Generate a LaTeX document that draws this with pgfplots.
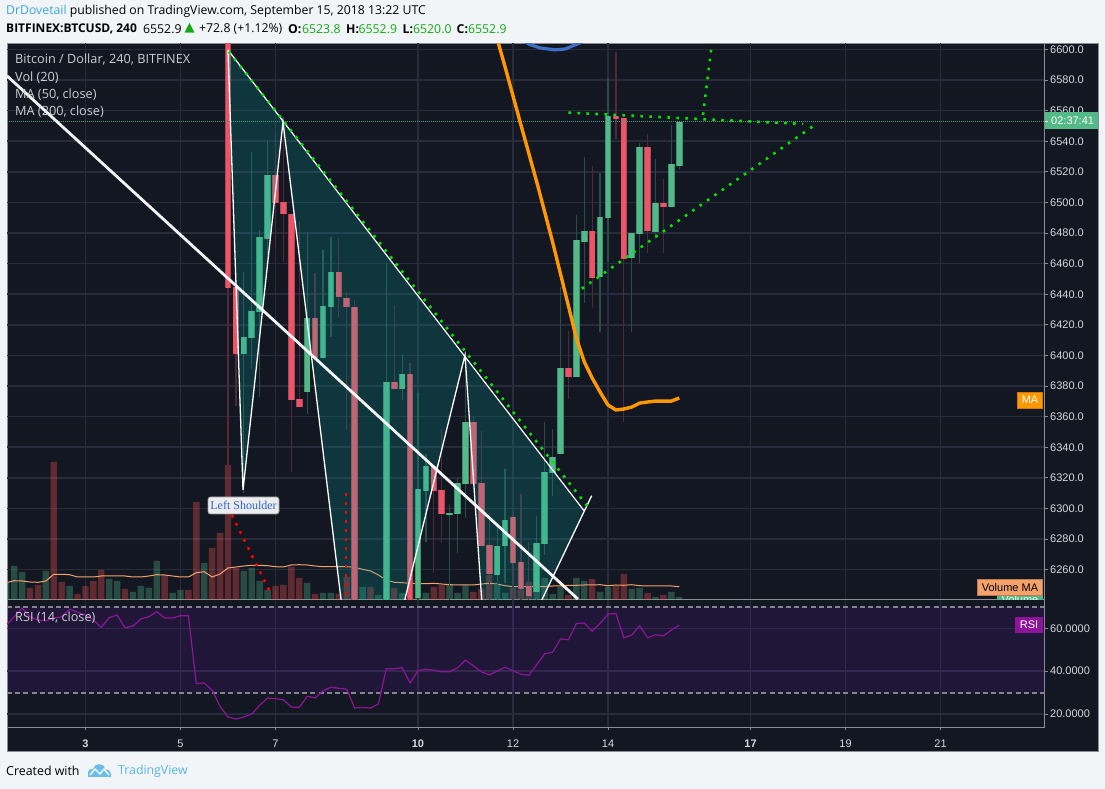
\documentclass[border=0pt]{standalone}
\usepackage{pgfplots}
\pgfplotsset{compat=1.18}
\usepackage{pgfplotstable}
\usepackage{fontspec}
\setmainfont{Open Sans}
\newfontfamily\lib{Liberation Sans}
\newfontfamily\libserif{Liberation Serif}
\newfontfamily\dv{DejaVu Sans}
\definecolor{pagebg}{HTML}{F1F5F8}
\definecolor{bg}{HTML}{131722}
\definecolor{gridc}{HTML}{282B3C}
\definecolor{axc}{HTML}{8A8D93}
\definecolor{lab}{HTML}{D6D8DC}
\definecolor{legc}{HTML}{CCCFD3}
\definecolor{upc}{HTML}{53B987}
\definecolor{upb}{HTML}{3F8F72}
\definecolor{dnc}{HTML}{EF5366}
\definecolor{dnb}{HTML}{A8485A}
\definecolor{upw}{HTML}{2B4D47}
\definecolor{dnw}{HTML}{51293A}
\definecolor{volup}{HTML}{53B987}
\definecolor{voldn}{HTML}{FF5252}
\definecolor{teal}{HTML}{00ADA9}
\definecolor{dotg}{HTML}{00E600}
\definecolor{rsic}{HTML}{8E1599}
\definecolor{band}{HTML}{9915FF}
\definecolor{dashc}{HTML}{85838F}
\definecolor{volma}{HTML}{F5A36B}
\definecolor{ma50}{HTML}{FF9800}
\definecolor{ma200}{HTML}{3D6FC4}
\definecolor{tvblue}{HTML}{3BA7E0}
\definecolor{hdrg}{HTML}{12A812}
\definecolor{pline}{HTML}{45A07C}

\pgfplotstableread{
k l b t h
2 6310.1 6401 6412.1 6454.6
3 6391.2 6411.4 6429.1 6533
4 6372.9 6428.4 6477.4 6482
5 6465.7 6476.1 6518 6540.8
10 6361.8 6376.1 6424.5 6480.7
12 6398.4 6398.4 6432.4 6469
13 6412.1 6431.7 6454.6 6477.4
20 6190 6200 6382.7 6460.5
22 6370.9 6378.1 6387.9 6401
24 6200 6241.5 6312.7 6375.5
25 6278.1 6311.4 6327.8 6335.6
28 6238 6295.7 6297.1 6302.3
29 6270.9 6296.4 6316.7 6320
30 6293.8 6316 6356.5 6400.3
34 6240 6256.5 6275.5 6287.9
35 6251.3 6275.5 6292.5 6325.8
39 6240 6245.4 6277.5 6295.1
40 6269.6 6276.8 6323.9 6356.5
41 6308.2 6323.2 6333.7 6352
42 6335.6 6335.6 6391.8 6444.8
44 6385.9 6385.9 6475.5 6491.8
45 6434.3 6474.2 6481.4 6529.7
47 6415.4 6451.3 6490.5 6519.3
48 6461.1 6489.9 6556.5 6581.4
51 6415.4 6463.7 6480.1 6480.1
52 6460.5 6479.4 6536.3 6538.9
54 6476.1 6480.7 6499.7 6528.4
56 6497.1 6497.1 6525.2 6550.7
57 6521.9 6523.8 6552.9 6552.9
}\upcandles
\pgfplotstableread{
k l b t h
0 6326.5 6444.1 6700 6720
1 6367 6401 6444.8 6444.8
6 6470.3 6499.7 6518 6545.4
7 6461.1 6492.5 6500.3 6549.3
8 6323.9 6370.9 6492.5 6492.5
9 6366.3 6366.3 6371.6 6487.9
11 6398.4 6398.4 6424.5 6453.9
14 6425.2 6438.2 6454.6 6476.8
15 6351.3 6431.7 6437.6 6441.5
16 6190 6200 6431.7 6436.3
21 6378.1 6378.1 6382.7 6433
23 6190 6200 6387.9 6395.1
26 6257.8 6311.4 6327.8 6327.8
27 6277.5 6296.4 6312.1 6352
31 6316 6316 6356.5 6360.5
32 6275.5 6275.5 6316.7 6350.6
33 6238 6257.2 6276.1 6297.1
36 6238 6264.4 6294.4 6297.7
37 6238 6247.4 6265 6309.5
38 6238 6242.8 6249.3 6278.1
43 6371.6 6385.9 6391.8 6416
46 6431 6450.7 6481.4 6523.9
49 6541.5 6554.6 6556.5 6598.4
50 6356.5 6463.1 6555.2 6555.2
53 6467 6481.4 6536.3 6544.8
55 6467 6497.1 6499.7 6515.4
}\dncandles
\pgfplotstableread{
k v
-28 17
-27 34
-26 28
-23 29
-20 14
-15 21
-14 19
-12 8
-11 14
-10 12
-9 39
-7 7
-6 10
-3 37
2 29
3 32
4 19
5 10
10 17
12 7
13 7
17 13
19 5
20 28
22 7
24 10
25 7
28 16
29 7
30 15
34 15
35 7
39 13
40 22
41 6
42 13
44 22
45 19
47 8
48 13
51 11
52 12
54 3
56 8
57 3
}\volup
\pgfplotstableread{
k v
-25 12
-24 15
-22 138
-21 18
-19 6
-18 14
-17 19
-16 30
-13 11
-8 25
-5 10
-4 98
-2 52
-1 67
0 135
1 32
6 14
7 15
8 33
9 22
11 6
14 6
15 23
16 30
18 13
21 12
23 20
26 13
27 15
31 8
32 11
33 25
36 12
37 10
38 18
43 5
46 21
49 14
50 26
53 7
55 5
}\voldn

\pgfplotsset{
  frame/.style={
    scale only axis, width=1037.5pt,
    xmin=-27.91, xmax=103.13,
    xtick={-18,-6,6,24,36,48,66,78,90},
    grid=major, grid style={gridc,line width=1.6pt},
    axis x line*=bottom, axis y line*=right,
    x axis line style={-,axc,line width=1pt},
    y axis line style={-,axc,line width=1pt},
    tick align=outside, major tick length=3pt,
    tick style={axc,line width=.8pt},
    yticklabel style={font=\lib\fontsize{11}{11}\selectfont,text=lab,anchor=west,inner sep=0pt,xshift=2.5pt},
    xticklabel style={font=\lib\fontsize{11}{11}\selectfont,text=lab,yshift=-6pt},
  },
  over/.style={
    scale only axis, width=1037.5pt, height=556.5pt,
    xmin=-27.91, xmax=103.13, ymin=6240.2, ymax=6603.9, hide axis, clip=true,
  },
}

\begin{document}
\begin{tikzpicture}[x=1pt,y=1pt]
\fill[pagebg] (0,0) rectangle (1105,789);
\fill[bg] (7,37) rectangle (1098.5,745.5);
\draw[axc,line width=1pt] (7,37) rectangle (1098.5,745.5);

% price frame: grid, ticks and labels
\begin{axis}[frame, at={(7pt,189pt)}, anchor=south west, height=556.5pt,
  ymin=6240.2, ymax=6603.9,
  ytick={6240,6260,...,6600},
  xticklabels={}, x tick style={draw=none},
  /pgf/number format/.cd, assume math mode=true, fixed, fixed zerofill, precision=1, 1000 sep={}]
\end{axis}

% RSI panel
\fill[bg] (1045.5,37.5) rectangle (1098,189);
\begin{axis}[frame, at={(7pt,61.7pt)}, anchor=south west, height=126.8pt,
  ymin=13.8, ymax=73,
  ytick={20,40,60},
  xticklabels={\textbf{3},5,7,\textbf{10},12,14,\textbf{17},19,21},
  /pgf/number format/.cd, assume math mode=true, fixed, fixed zerofill, precision=4, 1000 sep={}]
\addplot[fill=band,fill opacity=.1,draw=none,forget plot] coordinates {(-27.91,30)(103.13,30)(103.13,70)(-27.91,70)} --cycle;
\addplot[dashc,line width=2pt,dash pattern=on 5pt off 3.2pt,forget plot] coordinates {(-27.91,70)(103.13,70)};
\addplot[dashc,line width=2pt,dash pattern=on 5pt off 3.2pt,forget plot] coordinates {(-27.91,30)(103.13,30)};
\addplot[rsic,line width=1.2pt,forget plot] coordinates {
(-28,61.5)(-27,65.4)(-26,69.4)(-25,65.4)(-24,63.9)(-23,63.5)(-22,64.7)(-21,65.4)(-20,69)(-19,67.5)
(-18,66.2)(-17,63.9)(-16,60.5)(-15,65)(-14,66.2)(-13,60.3)(-12,61.1)(-11,64.4)(-10,65.4)(-9,67.8)
(-8,64.8)(-7,64.8)(-6,65.9)(-5,65.9)(-4,34.2)(-3,34.5)(-2,31.1)(-1,23.6)(0,18.6)(1,17.7)(2,18.6)
(3,20)(4,24.1)(5,27.5)(6,27.2)(7,26.6)(8,23.3)(9,23)(10,28.3)(11,27.5)(12,30.8)(13,32.5)(14,32)
(15,31.6)(16,22.8)(17,23.1)(18,22.8)(19,24.7)(20,41.2)(21,41.1)(22,41.7)(23,34.5)(24,40.2)(25,40.9)
(26,40.5)(27,39.7)(28,39.7)(29,41.6)(30,45.2)(31,42.5)(32,39.7)(33,38.3)(34,40)(35,41.9)(36,40.2)
(37,38.6)(38,38.1)(39,43.1)(40,48.1)(41,48.9)(42,55)(43,54.7)(44,62.2)(45,62.5)(46,58.7)(47,62.3)
(48,66.7)(49,66.9)(50,55.6)(51,56.9)(52,61.2)(53,55.6)(54,57)(55,56.5)(56,59.2)(57,61.5)};
\end{axis}

% volume bars and their moving average (heights in the chart's own unnamed scale)
\begin{axis}[scale only axis, width=1037.5pt, height=556.5pt, at={(7pt,189pt)}, anchor=south west,
  xmin=-27.91, xmax=103.13, ymin=0, ymax=556.5, hide axis]
\addplot[ybar,bar width=6.4pt,bar shift=0pt,fill=volup,fill opacity=.33,draw=none,forget plot] table[x=k,y=v] {\volup};
\addplot[ybar,bar width=6.4pt,bar shift=0pt,fill=voldn,fill opacity=.33,draw=none,forget plot] table[x=k,y=v] {\voldn};
\addplot[volma,line width=1pt,forget plot] coordinates {
(-28,17.3)(-27,19.3)(-26,19)(-25,18)(-24,17.7)(-23,19)(-22,25.7)(-21,25.7)(-20,25.3)(-19,23)(-18,23)
(-17,23)(-16,24)(-15,24)(-14,24)(-13,24)(-12,23)(-11,23)(-10,24)(-9,25.3)(-8,25)(-7,24)(-6,23)(-5,23)
(-4,27.3)(-3,28.3)(-2,23)(-1,26)(0,32)(1,33)(2,34)(3,34.7)(4,34.7)(5,34.3)(6,33.3)(7,33)(8,35)(9,35.3)
(10,35)(11,34)(12,33.3)(13,33.3)(14,33.3)(15,33.3)(16,32.7)(17,30.7)(18,29)(19,25)(20,20)(21,17.7)
(22,17.3)(23,16.7)(24,16.3)(25,16.3)(26,16.7)(27,16)(28,15.3)(29,15)(30,15)(31,15)(32,16)(33,16.7)
(34,16)(35,14.3)(36,13.3)(37,13.3)(38,13.3)(39,13.3)(40,13.3)(41,14)(42,14)(43,14.7)(44,14.7)(45,15)
(46,15)(47,15.3)(48,14.3)(49,15)(50,14.7)(51,15.3)(52,14.3)(53,14)(54,14)(55,14)(56,14)(57,13.3)};
\end{axis}

% candles, moving averages and the drawings on the chart
\begin{axis}[over, at={(7pt,189pt)}, anchor=south west]
\addplot[draw=none,mark=none,forget plot,error bars/.cd,y dir=plus,y explicit,error mark=none,error bar style={color=upw,line width=1.3pt}]
  table[x=k,y=l,y error plus expr=\thisrow{h}-\thisrow{l}] {\upcandles};
\addplot[draw=none,mark=none,forget plot,error bars/.cd,y dir=plus,y explicit,error mark=none,error bar style={color=dnw,line width=1.3pt}]
  table[x=k,y=l,y error plus expr=\thisrow{h}-\thisrow{l}] {\dncandles};
\addplot[draw=none,mark=none,forget plot,error bars/.cd,y dir=plus,y explicit,error mark=none,error bar style={color=upb,line width=6.6pt}]
  table[x=k,y=b,y error plus expr=\thisrow{t}-\thisrow{b}] {\upcandles};
\addplot[draw=none,mark=none,forget plot,error bars/.cd,y dir=plus,y explicit,error mark=none,error bar style={color=dnb,line width=6.6pt}]
  table[x=k,y=b,y error plus expr=\thisrow{t}-\thisrow{b}] {\dncandles};
\addplot[draw=none,mark=none,forget plot,error bars/.cd,y dir=plus,y explicit,error mark=none,error bar style={color=upc,line width=4.8pt}]
  table[x=k,y=b,y error plus expr=\thisrow{t}-\thisrow{b}] {\upcandles};
\addplot[draw=none,mark=none,forget plot,error bars/.cd,y dir=plus,y explicit,error mark=none,error bar style={color=dnc,line width=4.8pt}]
  table[x=k,y=b,y error plus expr=\thisrow{t}-\thisrow{b}] {\dncandles};
% pattern fill
\addplot[fill=teal,fill opacity=.2,draw=none,forget plot] coordinates {
 (0,6599.7)(1.9,6312.1)(6.95,6552.6)(14.9,6214.1)(21.09,6214.1)(29.94,6400.3)(32.39,6214.1)(37.22,6214.1)(44.97,6298.6)} --cycle;
% last price line
\addplot[pline,line width=1.2pt,dash pattern=on 1.2pt off .8pt,forget plot] coordinates {(-27.91,6552.9)(103.13,6552.9)};
% moving averages
\addplot[ma200,line width=3.2pt,forget plot] coordinates {(37.1,6606.2)(38.1,6603.3)(39.4,6601)(41.3,6599.7)(42.6,6600.3)(43.8,6602.9)(45.1,6605.6)};
\addplot[ma50,line width=3.4pt,forget plot] coordinates {(33.5,6616)(35,6588.6)(37,6550.7)(39,6513.4)(41,6474.2)(43,6432.4)(44,6411.4)(45,6395.8)(46,6385.3)(47,6376.1)(48,6367.6)(49,6364.4)(50,6365)(51,6366.3)(52,6368.9)(53,6369.6)(54,6370.2)(55,6370.2)(56,6370.2)(57,6372.2)};
% trend line
\addplot[white,line width=2.8pt,opacity=.95,forget plot] coordinates {(-27.9,6582.7)(44.2,6240.8)};
% pattern outline
\addplot[white,line width=1.3pt,forget plot] coordinates {(0,6599.7)(1.9,6312.1)(6.95,6552.6)(14.9,6214.1)};
\addplot[white,line width=1.3pt,forget plot] coordinates {(21.09,6214.1)(29.94,6400.3)(32.39,6214.1)};
\addplot[white,line width=1.3pt,forget plot] coordinates {(37.22,6214.1)(45.94,6308.4)};
\addplot[white,line width=1.2pt,forget plot] coordinates {(0,6599.7)(44.97,6298.6)};
% dotted drawings
\tikzset{dots/.style={line width=2.6pt,dash pattern=on 2.6pt off 6.4pt}}
\addplot[dotg,dots,forget plot] coordinates {(0.1,6598.6)(45.85,6298.6)};
\addplot[dotg,dots,forget plot] coordinates {(43,6558.7)(72.6,6551.3)};
\addplot[dotg,dots,forget plot] coordinates {(73.8,6549.5)(44.1,6441.5)};
\addplot[dotg,dots,forget plot] coordinates {(60,6557.2)(61.26,6609.5)};
\addplot[red,dots,forget plot] coordinates {(0.5,6295.7)(5.56,6242.8)};
\addplot[red,dots,forget plot] coordinates {(14.9,6310.1)(14.9,6240.2)};
\end{axis}

% legend texts
\begin{scope}[every node/.style={anchor=west,inner sep=0pt,text=legc,font=\fontsize{12.7}{13}\selectfont}]
\node at (15,729) {Bitcoin / Dollar, 240, BITFINEX};
\node at (15,711.5) {Vol (20)};
\node at (15,694.5) {MA (50, close)};
\node at (15,677.5) {MA (200, close)};
\node at (15,171) {RSI (14, close)};
\end{scope}

% Left Shoulder label
\node[anchor=center,fill=white!93!black,draw=white!60!black,rounded corners=2.5pt,line width=.8pt,
  minimum width=71pt,minimum height=17pt,inner sep=0pt,text={rgb,255:red,47;green,101;blue,208},
  font=\libserif\fontsize{12}{12}\selectfont] at (243.5,283.5) {Left Shoulder};

% price scale tags
\fill[upc] (1044.5,660) rectangle (1098,677);
\draw[white,line width=.8pt] (1044.5,667.4) -- (1048,667.4);
\node[anchor=west,inner sep=0pt,text=white,font=\lib\fontsize{11}{11}\selectfont] at (1051,668) {02:37:41};
\node[anchor=center,fill=ma50,draw=ma50!80!black,minimum width=25pt,minimum height=15.5pt,inner sep=0pt,text=white,font=\lib\fontsize{11}{11}\selectfont] at (1030,389) {MA};
\begin{scope}
\clip (990,189) rectangle (1044,193.5);
\fill[upc] (997,189) rectangle (1042.7,193.5);
\node[anchor=center,inner sep=0pt,text=white,font=\lib\fontsize{11}{11}\selectfont] at (1020,189.5) {Volume};
\end{scope}
\node[anchor=center,fill=volma,draw=volma!75!black,minimum width=65pt,minimum height=16.5pt,inner sep=0pt,text=black,font=\lib\fontsize{11}{11}\selectfont] at (1010,201.7) {Volume MA};
\node[anchor=center,fill=rsic,minimum width=27.5pt,minimum height=16pt,inner sep=0pt,text=white,font=\lib\fontsize{11}{11}\selectfont] at (1029,164) {RSI};

% header
\begin{scope}[every node/.style={anchor=west,inner sep=0pt,font=\fontsize{12.26}{12}\selectfont}]
\node at (6,778) {\textcolor{tvblue}{DrDovetail} published on TradingView.com, September 15, 2018 13:22 UTC};
\node[font=\fontsize{12}{12}\selectfont] at (6,760) {\textbf{BITFINEX:BTCUSD, 240}};
\node at (143,760) {6552.9};
\node[font=\dv\fontsize{13}{13}\selectfont,text=hdrg] at (184.5,760.5) {▲};
\node at (199,760) {+72.8 (+1.12\%)};
\node at (288,760) {\textbf{O:}};
\node[text=hdrg] at (302,760) {6523.8};
\node at (346,760) {\textbf{H:}};
\node[text=hdrg] at (358.5,760) {6552.9};
\node at (402.5,760) {\textbf{L:}};
\node[text=hdrg] at (413,760) {6520.0};
\node at (456.5,760) {\textbf{C:}};
\node[text=hdrg] at (468,760) {6552.9};
\end{scope}

% footer
\node[anchor=west,inner sep=0pt,font=\fontsize{12.4}{12}\selectfont] at (6,18) {Created with};
\node[anchor=west,inner sep=0pt,text=tvblue!85!white,font=\fontsize{12.3}{12}\selectfont] at (118,18) {TradingView};
\fill[tvblue!75!white] (88,12) -- (88,17) .. controls (88,20) and (91,20) .. (93,20) .. controls (94,26) and (104,27) .. (105,20) .. controls (108,20) and (111,18) .. (111,15) -- (111,12) -- cycle;
\draw[white,line width=1.3pt] (90,14) -- (95,20) -- (100,15) -- (104,20) -- (109,14);
\end{tikzpicture}
\end{document}
